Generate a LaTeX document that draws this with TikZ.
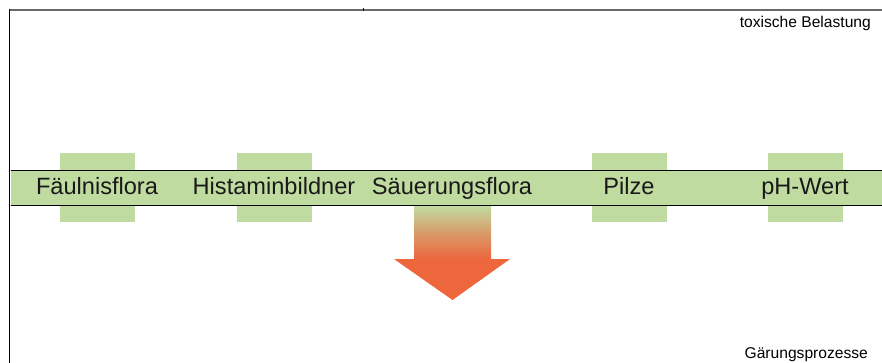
\documentclass[tikz,border=0pt]{standalone}
\usepackage{fontspec}
\setmainfont{Liberation Sans}
\usetikzlibrary{positioning}
\definecolor{leaf}{RGB}{192,219,160}
\definecolor{ember}{RGB}{237,102,60}
\definecolor{frame}{RGB}{105,105,105}
\tikzset{
  tab/.style={fill=leaf, draw=none, minimum width=75pt, minimum height=69pt, inner sep=0pt},
  factor/.style={anchor=base, inner sep=0pt, font=\fontsize{23.6}{28}\selectfont, text=black!90},
  corner/.style={anchor=base east, inner sep=0pt, font=\fontsize{15.6}{18}\selectfont}
}
\begin{document}
\begin{tikzpicture}[x=1pt, y=-1pt]
  \useasboundingbox (0,0) rectangle (882,363);
  % frame: grey top rule and black left rule
  \draw[frame, line width=1.6pt] (9,9.8) -- (882,9.8);
  \draw[black, line width=1pt] (363,8.5) -- (363,11);
  \draw[black, line width=1.5pt] (9.7,9) -- (9.7,363);
  % tabs above and below the band
  \node[tab] (t1) at (97.5,187.5) {};
  \node[tab] (t2) at (274.5,187.5) {};
  \node[tab] (t4) at (629.5,187.5) {};
  \node[tab] (t5) at (805.5,187.5) {};
  % the band
  \fill[leaf] (10.5,170.5) rectangle (882,205.5);
  \draw[black, line width=1.3pt] (10.5,170.5) -- (882,170.5);
  \draw[black, line width=1.3pt] (10.5,205.5) -- (882,205.5);
  % downward arrow under the middle label
  \shade[top color=leaf, bottom color=ember, middle color=ember!55!leaf] (414,206.2) rectangle (491,259.5);
  \fill[ember] (394,259) -- (510,259) -- (452.5,300) -- cycle;
  % labels
  \node[factor] (fa) at (97,195) {Fäulnisflora};
  \node[factor] (hi) at (274,195) {Histaminbildner};
  \node[factor] (sa) at (452,195) {Säuerungsflora};
  \node[factor] (pi) at (629,195) {Pilze};
  \node[factor] (ph) at (805,195) {pH-Wert};
  \node[corner] (top) at (871,27.5) {toxische Belastung};
  \node[corner] (bot) at (868,358) {Gärungsprozesse};
\end{tikzpicture}
\end{document}
